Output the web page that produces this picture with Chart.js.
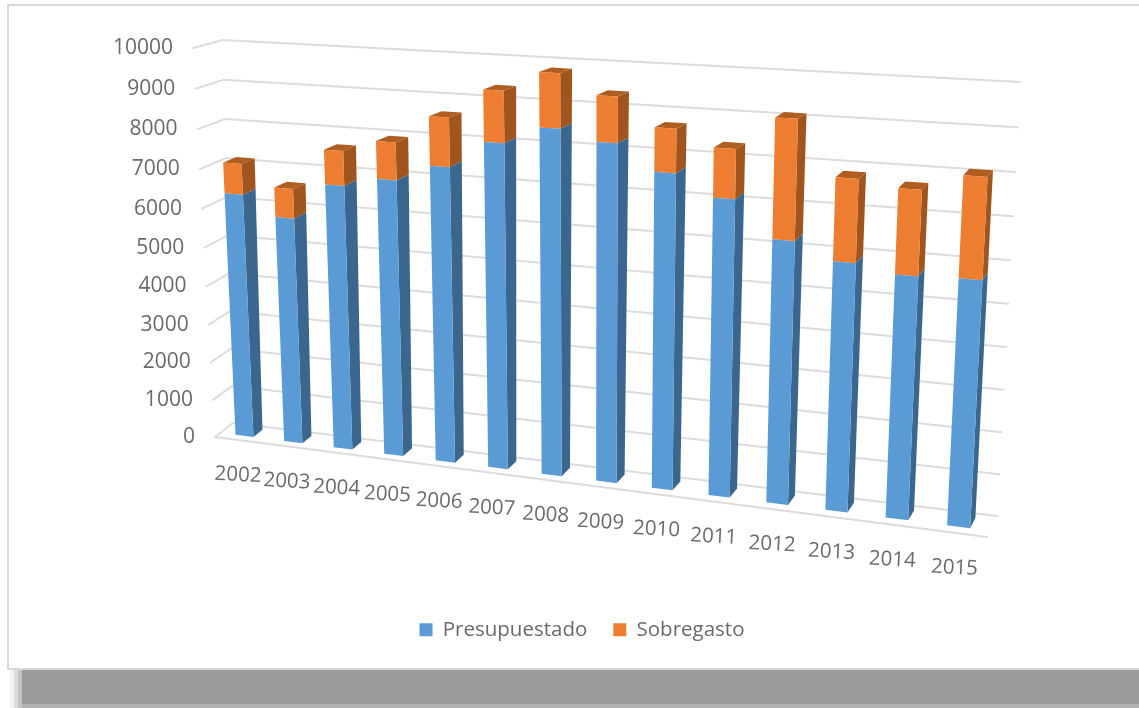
<!DOCTYPE html>
<html><head><meta charset="utf-8">
<style>
html,body{margin:0;padding:0;background:#fff;width:1139px;height:708px;overflow:hidden}
.panel{position:absolute;left:7px;top:4px;width:1140px;height:662px;border:2px solid #d9d9d9;background:#fff}
.sh{position:absolute;top:670px;bottom:0}
#c{position:absolute;left:25px;top:0;filter:blur(0.4px)}
</style>
<script src="https://cdn.jsdelivr.net/npm/chart.js@4"></script>
</head><body>
<div class="sh" style="left:10px;width:4px;background:#f4f4f4"></div>
<div class="sh" style="left:14px;width:4px;background:#dcdcdc"></div>
<div class="sh" style="left:18px;width:4px;background:#c4c4c4"></div>
<div class="sh" style="left:22px;right:0;background:#9a9a9a"></div>
<div class="sh" style="left:22px;right:0;top:704px;background:#b2b2b2"></div>
<div class="panel"></div>
<canvas id="c" width="1114" height="650"></canvas>
<script>
const categories = ["2002","2003","2004","2005","2006","2007","2008","2009","2010","2011","2012","2013","2014","2015"];
const presupuestado = [6330,5835,6755,6990,7415,8080,8510,8260,7655,7155,6300,5910,5730,5765];
const sobregasto = [780,745,865,930,1190,1240,1295,1085,1030,1155,2780,1915,1950,2300];
const yTicks = {min:0,max:10000,step:1000};

// Perspective frame of the 3D plot (page pixels), not data: bottom-left, bottom-right, top-right, top-left
const BACK = [[233,423],[997,516],[1020,82],[223,40]];
const FRONT = [[215,437],[987,537],[1010,92],[193,48]];
const BAR_DEPTH = [0.20,0.70];
const OFFX = 25;

function homography(q){
  const [x0,y0]=q[0],[x1,y1]=q[1],[x2,y2]=q[2],[x3,y3]=q[3];
  const dx1=x1-x2,dx2=x3-x2,dy1=y1-y2,dy2=y3-y2,sx=x0-x1+x2-x3,sy=y0-y1+y2-y3;
  const det=dx1*dy2-dx2*dy1;
  const g=(sx*dy2-dx2*sy)/det,h=(dx1*sy-sx*dy1)/det;
  const a=x1-x0+g*x1,b=x3-x0+h*x3,d=y1-y0+g*y1,e=y3-y0+h*y3;
  return (u,v)=>{const w=g*u+h*v+1;return [(a*u+b*v+x0)/w,(d*u+e*v+y0)/w];};
}
const HB=homography(BACK),HF=homography(FRONT);
function proj(u,v,d){
  const p=HB(u,v),q=HF(u,v);
  return [p[0]+(q[0]-p[0])*d-OFFX,p[1]+(q[1]-p[1])*d];
}
function poly(ctx,pts,fill){
  ctx.beginPath();pts.forEach((p,i)=>i?ctx.lineTo(p[0],p[1]):ctx.moveTo(p[0],p[1]));ctx.closePath();
  ctx.fillStyle=fill;ctx.fill();
}
function line(ctx,a,b){ctx.beginPath();ctx.moveTo(a[0],a[1]);ctx.lineTo(b[0],b[1]);ctx.stroke();}

const COLORS=[{front:"#5B9BD5",side:"#3B678F",top:"#4A80B0"},{front:"#ED7D31",side:"#A0551E",top:"#B05E20"}];
const TEXT="#6a6a6a",FONT='"Open Sans"',GRID="#dcdcdc";

const persp={
  id:"persp",
  beforeDatasetsDraw(chart){
    const {ctx,chartArea:a,scales:{x,y}}=chart;
    ctx.save();
    ctx.strokeStyle=GRID;ctx.lineWidth=2;ctx.lineCap="round";
    y.ticks.forEach((t,i)=>{
      const v=(a.bottom-y.getPixelForTick(i))/(a.bottom-a.top);
      line(ctx,proj(0,v,1),proj(0,v,0));
      line(ctx,proj(0,v,0),proj(1,v,0));
    });
    line(ctx,proj(0,0,1),proj(1,0,1));
    ctx.fillStyle=TEXT;ctx.font='21px '+FONT;ctx.textAlign="right";ctx.textBaseline="middle";
    y.ticks.forEach((t,i)=>{
      const v=(a.bottom-y.getPixelForTick(i))/(a.bottom-a.top);
      const p=proj(0,v,1);
      ctx.fillText(t.label,p[0]-20,p[1]);
    });
    ctx.font='20.5px '+FONT;ctx.textAlign="center";
    x.ticks.forEach((t,i)=>{
      const u=(x.getPixelForTick(i)-a.left)/(a.right-a.left);
      const p=proj(u,0,1);
      ctx.save();ctx.translate(p[0]-1,p[1]+35);ctx.rotate(3*Math.PI/180);
      ctx.fillText(t.label,0,0);ctx.restore();
    });
    ctx.restore();
  },
  beforeDatasetDraw(chart,args){
    const {ctx,chartArea:a}=chart;
    const col=COLORS[args.index];
    const U=px=>(px-a.left)/(a.right-a.left),V=py=>(a.bottom-py)/(a.bottom-a.top);
    args.meta.data.forEach(b=>{
      const l=U(b.x-b.width/2),r=U(b.x+b.width/2),t=V(b.y),s=V(b.base);
      const [k,f]=BAR_DEPTH;
      poly(ctx,[proj(r,s,f),proj(r,s,k),proj(r,t,k),proj(r,t,f)],col.side);
      if(args.index===1) poly(ctx,[proj(l,t,f),proj(r,t,f),proj(r,t,k),proj(l,t,k)],col.top);
      poly(ctx,[proj(l,s,f),proj(r,s,f),proj(r,t,f),proj(l,t,f)],col.front);
    });
    return false;
  }
};

new Chart(document.getElementById("c"),{
  type:"bar",
  data:{labels:categories,datasets:[
    {label:"Presupuestado",data:presupuestado,backgroundColor:COLORS[0].front},
    {label:"Sobregasto",data:sobregasto,backgroundColor:COLORS[1].front}
  ]},
  plugins:[persp],
  options:{
    responsive:false,animation:false,
    datasets:{bar:{categoryPercentage:1,barPercentage:0.37}},
    plugins:{tooltip:{enabled:false},
      legend:{position:"bottom",labels:{boxWidth:13,boxHeight:13,padding:26,color:TEXT,font:{family:FONT,size:20.5}}}},
    scales:{
      x:{stacked:true,grid:{display:false},border:{display:false},ticks:{display:false}},
      y:{stacked:true,min:yTicks.min,max:yTicks.max,grid:{display:false},border:{display:false},
         ticks:{display:false,stepSize:yTicks.step,callback:v=>String(v)}}
    }
  }
});
</script>
</body></html>
